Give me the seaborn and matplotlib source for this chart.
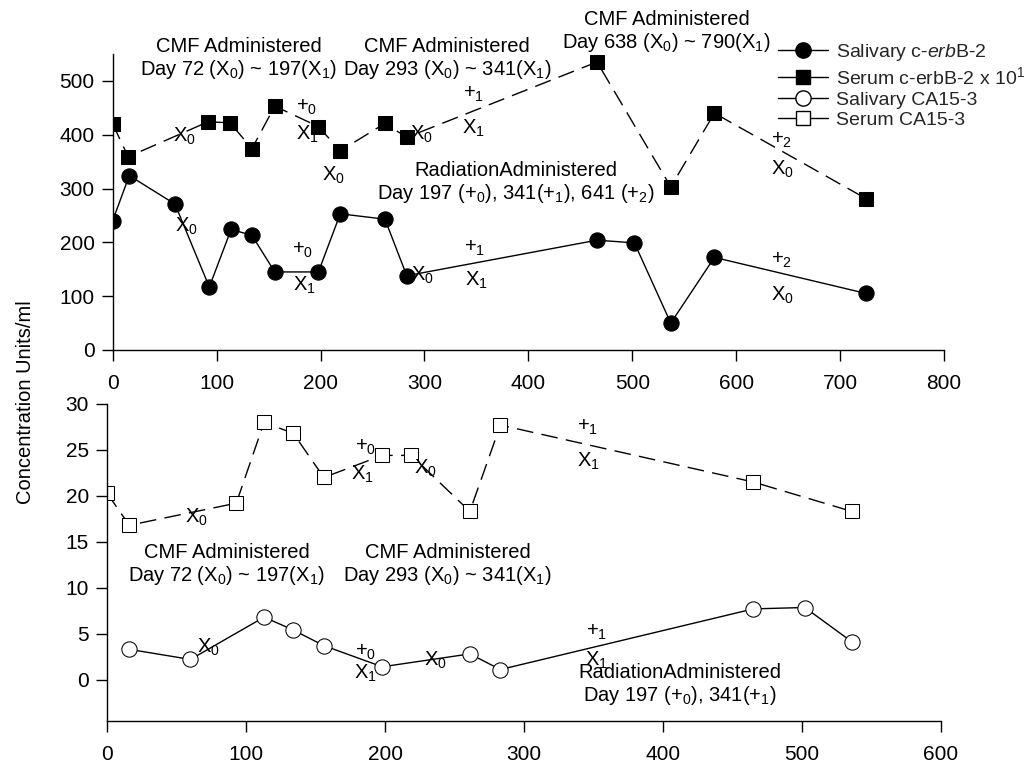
import matplotlib
matplotlib.use("Agg")
import matplotlib.pyplot as plt
from matplotlib.lines import Line2D
import seaborn as sns

# top panel: c-erbB-2
days_sal_erb = [0, 16, 60, 93, 114, 134, 156, 198, 219, 262, 283, 466, 502, 537, 579, 725]
sal_erb = [240, 324, 271, 117, 224, 213, 145, 145, 253, 243, 138, 204, 199, 50, 172, 105]
days_ser_erb = [0, 15, 92, 113, 134, 156, 198, 219, 262, 283, 466, 537, 579, 725]
ser_erb = [420, 359, 424, 422, 374, 453, 415, 370, 421, 395, 535, 303, 440, 281]

# bottom panel: CA15-3
days_sal_ca = [16, 60, 113, 134, 156, 198, 261, 283, 465, 502, 536]
sal_ca = [3.3, 2.2, 6.8, 5.4, 3.7, 1.4, 2.8, 1.1, 7.7, 7.85, 4.1]
days_ser_ca = [0, 16, 93, 113, 134, 156, 198, 219, 261, 283, 465, 536]
ser_ca = [20.3, 16.8, 19.2, 28.0, 26.8, 22.0, 24.4, 24.4, 18.3, 27.7, 21.5, 18.3]

legend_labels = ["Salivary c-$\\it{erb}$B-2", "Serum c-erbB-2 x 10$^1$",
                 "Salivary CA15-3", "Serum CA15-3"]

sns.set_theme(style="ticks")
plt.rcParams['font.family'] = ['Liberation Sans', 'DejaVu Sans']
plt.rcParams['mathtext.fontset'] = 'custom'
plt.rcParams['mathtext.rm'] = 'Liberation Sans'
plt.rcParams['mathtext.it'] = 'Liberation Sans:italic'

fig = plt.figure(figsize=(10.24, 7.65), dpi=100)
ax1 = fig.add_axes([0.110, 0.5425, 0.812, 0.387])
ax2 = fig.add_axes([0.1045, 0.0575, 0.8145, 0.4145])

dash = (0, (12, 6))
sns.lineplot(x=days_sal_erb, y=sal_erb, ax=ax1, color="black", lw=1, marker="o",
             markersize=11, markerfacecolor="black", markeredgecolor="black", sort=False)
sns.lineplot(x=days_ser_erb, y=ser_erb, ax=ax1, color="black", lw=1, marker="s",
             markersize=10, markerfacecolor="black", markeredgecolor="black",
             linestyle=dash, sort=False)
sns.lineplot(x=days_sal_ca, y=sal_ca, ax=ax2, color="black", lw=1, marker="o",
             markersize=11, markerfacecolor="white", markeredgecolor="black", sort=False)
sns.lineplot(x=days_ser_ca, y=ser_ca, ax=ax2, color="black", lw=1, marker="s",
             markersize=10, markerfacecolor="white", markeredgecolor="black",
             linestyle=dash, sort=False)

ax1.set_xlim(0, 800)
ax1.set_ylim(0, 550)
ax1.set_xticks(range(0, 801, 100))
ax1.set_yticks(range(0, 501, 100))
ax2.set_xlim(0, 600)
ax2.set_ylim(-4.5, 30)
ax2.set_xticks(range(0, 601, 100))
ax2.set_yticks(range(0, 31, 5))

for ax in (ax1, ax2):
    sns.despine(ax=ax)
    ax.tick_params(labelsize=15, length=8, width=1, color="black", labelcolor="black")
    ax.tick_params(axis="x", pad=9)
    ax.tick_params(axis="y", pad=5)
    for s in ax.spines.values():
        s.set_color("black")
        s.set_linewidth(1)
    ax.set_xlabel("")
    ax.set_ylabel("")

fs = 14.5
def note(ax, x, y, s, size=fs):
    ax.text(x, y, s, ha="center", va="center", fontsize=size, color="black",
            clip_on=False, linespacing=1.1)

# top annotations
note(ax1, 121, 541, "CMF Administered\nDay 72 (X$_0$) ~ 197(X$_1$)")
note(ax1, 322, 541, "CMF Administered\nDay 293 (X$_0$) ~ 341(X$_1$)")
note(ax1, 533, 591, "CMF Administered\nDay 638 (X$_0$) ~ 790(X$_1$)")
note(ax1, 388, 310, "RadiationAdministered\nDay 197 (+$_0$), 341(+$_1$), 641 (+$_2$)")
top_marks = [(69, 396, "X$_0$"), (187, 450, "+$_0$"), (187, 400, "X$_1$"), (212, 325, "X$_0$"),
             (297, 400, "X$_0$"), (347, 474, "+$_1$"), (347, 412, "X$_1$"),
             (71, 229, "X$_0$"), (183, 186, "+$_0$"), (185, 121, "X$_1$"),
             (298, 139, "X$_0$"), (348, 189, "+$_1$"), (350, 130, "X$_1$"),
             (644, 390, "+$_2$"), (644, 335, "X$_0$"), (644, 167, "+$_2$"), (644, 102, "X$_0$")]
for x, y, s in top_marks:
    note(ax1, x, y, s)

# bottom annotations
note(ax2, 86, 12.5, "CMF Administered\nDay 72 (X$_0$) ~ 197(X$_1$)")
note(ax2, 245, 12.5, "CMF Administered\nDay 293 (X$_0$) ~ 341(X$_1$)")
note(ax2, 412, -0.6, "RadiationAdministered\nDay 197 (+$_0$), 341(+$_1$)")
bot_marks = [(64, 17.7, "X$_0$"), (186, 25.3, "+$_0$"), (184, 22.3, "X$_1$"), (229, 23.0, "X$_0$"),
             (346, 27.5, "+$_1$"), (346, 23.7, "X$_1$"),
             (73, 3.5, "X$_0$"), (186, 3.0, "+$_0$"), (186, 0.7, "X$_1$"), (236, 2.1, "X$_0$"),
             (352, 5.2, "+$_1$"), (352, 2.1, "X$_1$")]
for x, y, s in bot_marks:
    note(ax2, x, y, s)

handles = [
    Line2D([], [], color="black", lw=1, marker="o", markersize=11, markerfacecolor="black"),
    Line2D([], [], color="black", lw=1, marker="s", markersize=10, markerfacecolor="black"),
    Line2D([], [], color="black", lw=1, marker="o", markersize=11, markerfacecolor="white"),
    Line2D([], [], color="black", lw=1, marker="s", markersize=10, markerfacecolor="white"),
]
fig.legend(handles, legend_labels, loc="upper left", bbox_to_anchor=(0.752, 0.955),
           frameon=False, fontsize=14, handlelength=2.6, labelspacing=0.15,
           handletextpad=0.4, borderaxespad=0)

fig.text(0.025, 0.474, "Concentration Units/ml", rotation=90, ha="center", va="center",
         fontsize=14.5, color="black")

fig.savefig("out.png", dpi=100)
